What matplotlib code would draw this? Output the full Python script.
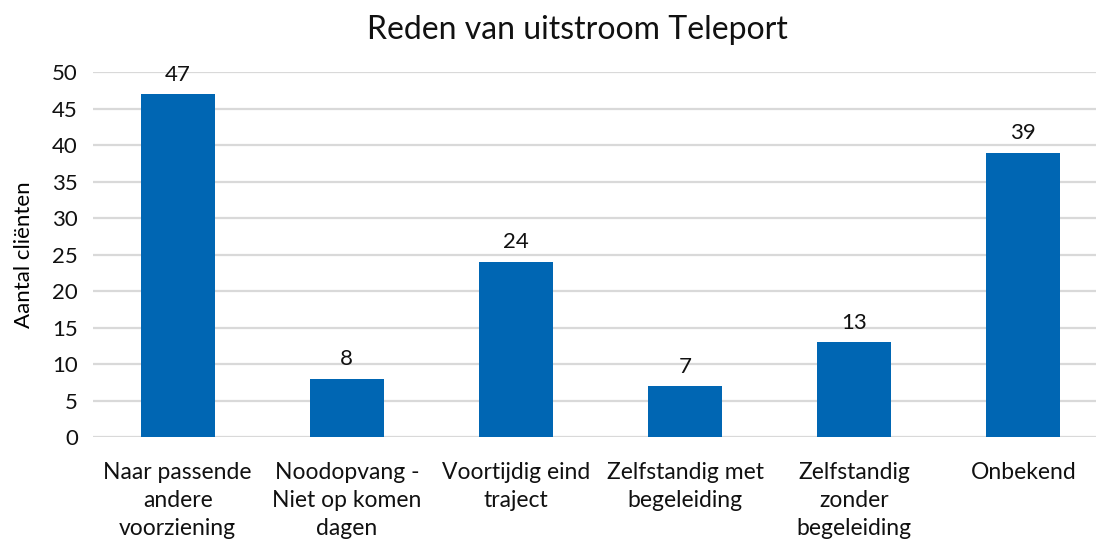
import matplotlib.pyplot as plt

categories = ["Naar passende\nandere\nvoorziening", "Noodopvang -\nNiet op komen\ndagen",
              "Voortijdig eind\ntraject", "Zelfstandig met\nbegeleiding",
              "Zelfstandig\nzonder\nbegeleiding", "Onbekend"]
values = [47, 8, 24, 7, 13, 39]
yticks = [0, 5, 10, 15, 20, 25, 30, 35, 40, 45, 50]

plt.rcParams['font.family'] = ['Lato', 'DejaVu Sans']

fig = plt.figure(figsize=(10.96, 5.39), dpi=100)
ax = fig.add_axes([0.085, 0.189, 0.915, 0.677])

x = list(range(len(values)))
bars = ax.bar(x, values, width=0.44, color="#0066b3", zorder=3)
for xi, v in zip(x, values):
    ax.text(xi, v + 1.3, str(v), ha="center", va="bottom", fontsize=16, color="#111111")

ax.set_xlim(-0.5, 5.43)
ax.set_ylim(0, 50)
ax.set_yticks(yticks)
ax.yaxis.grid(True, color="#d9d9d9", linewidth=1.6, zorder=0)
ax.set_axisbelow(True)
for s in ax.spines.values():
    s.set_visible(False)
ax.tick_params(axis="both", length=0, labelsize=16, colors="#111111")
ax.tick_params(axis="y", pad=11)
ax.set_xticks(x)
ax.set_xticklabels(categories, fontsize=16.5, linespacing=1.4)
ax.tick_params(axis="x", pad=18)
ax.set_ylabel("Aantal cliënten", fontsize=16, labelpad=13)

fig.text(0.527, 0.944, "Reden van uitstroom Teleport", ha="center", va="center", fontsize=23, color="#111111")

fig.savefig("out.png", dpi=100)
